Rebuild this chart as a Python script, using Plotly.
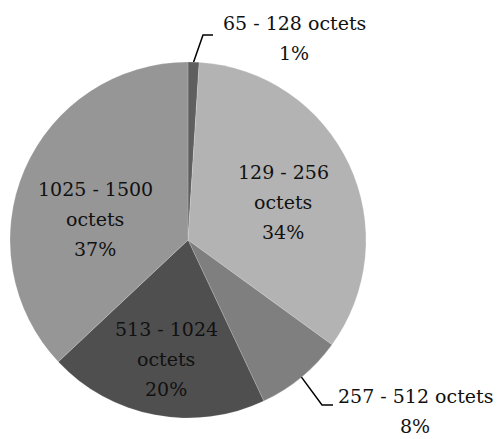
import math
import plotly.graph_objects as go

# ---- data ----
categories = ["65 - 128 octets", "129 - 256 octets", "257 - 512 octets",
              "513 - 1024 octets", "1025 - 1500 octets"]
shares = [1, 34, 8, 20, 37]
label_lines = [["65 - 128 octets", "1%"],
               ["129 - 256", "octets", "34%"],
               ["257 - 512 octets", "8%"],
               ["513 - 1024", "octets", "20%"],
               ["1025 - 1500", "octets", "37%"]]
colors = ["#5f5f5f", "#b3b3b3", "#7f7f7f", "#4f4f4f", "#969696"]

# page body has an 8px margin, so the figure is drawn 8px in from the corner
OFF = 8
W, H = 502 - OFF, 439 - OFF
CX, CY, R = 188, 240, 178


def px(x):
    return (x - OFF) / W


def py(y):
    return 1 - (y - OFF) / H


fig = go.Figure(go.Pie(
    labels=categories,
    values=shares,
    sort=False,
    direction="clockwise",
    rotation=0,
    marker=dict(colors=colors, line=dict(color="rgba(255,255,255,0.35)", width=0.5)),
    textinfo="none",
    hoverinfo="label+percent",
    showlegend=False,
    domain=dict(x=[px(CX - R), px(CX + R)], y=[py(CY + R), py(CY - R)]),
))

# label anchor: centre x and centre y of the first line (reference pixels)
label_pos = [(294, 23), (283, 172), (415, 396), (166, 329), (95, 189)]
LINE_PITCH = 30

font = dict(family="DejaVu Serif", size=19, color="#111111")
for lines, (x, y) in zip(label_lines, label_pos):
    for k, line in enumerate(lines):
        fig.add_annotation(x=px(x), y=py(y + k * LINE_PITCH), xref="paper", yref="paper",
                           text=line, showarrow=False, font=font,
                           xanchor="center", yanchor="middle", align="center")

# leader lines for the outside labels, starting from slice mid-angle on the rim
total = sum(shares)
cum = 0
mids = []
for v in shares:
    mids.append((cum + v / 2) / total * 2 * math.pi)
    cum += v

leaders = {0: [(203, 35), (213, 35)], 2: [(322, 405), (333, 405)]}
for idx, pts in leaders.items():
    a = mids[idx]
    sx, sy = CX + R * math.sin(a), CY - R * math.cos(a)
    path = f"M {px(sx)},{py(sy)} " + " ".join(f"L {px(x)},{py(y)}" for x, y in pts)
    fig.add_shape(type="path", path=path, xref="paper", yref="paper",
                  line=dict(color="#000000", width=1.5))

fig.update_layout(
    width=W, height=H,
    margin=dict(l=0, r=0, t=0, b=0),
    paper_bgcolor="white", plot_bgcolor="white",
)

fig.write_html("out.html")
